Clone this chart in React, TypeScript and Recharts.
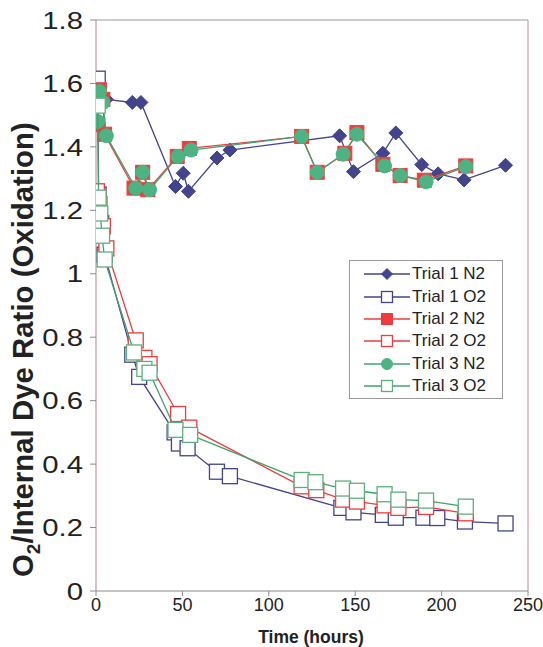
import React from 'react';
import { ScatterChart, Scatter, XAxis, YAxis, ReferenceLine, Label } from 'recharts';

// [time (hours), ratio]
const trial1N2: [number, number][] = [
  [2, 1.57], [6, 1.55], [21, 1.54], [26, 1.54], [46, 1.275], [50.5, 1.317], [53.5, 1.26],
  [70, 1.365], [77.5, 1.39], [141, 1.435], [149, 1.322], [166, 1.38], [173.5, 1.444],
  [188.5, 1.344], [198, 1.315], [213, 1.296], [237, 1.342],
];
const trial1O2: [number, number][] = [
  [1, 1.615], [1.5, 1.25], [3, 1.16], [5, 1.06], [21, 0.745], [25, 0.675], [45.5, 0.5],
  [48, 0.465], [53, 0.45], [70, 0.376], [77.5, 0.362], [142, 0.262], [149, 0.248],
  [166, 0.24], [173.5, 0.231], [189.5, 0.231], [197.5, 0.23], [213.5, 0.219], [237, 0.213],
];
const trial2N2: [number, number][] = [
  [1, 1.47], [2, 1.58], [4, 1.55], [5, 1.44], [22, 1.27], [27, 1.32], [30, 1.265],
  [47, 1.37], [54, 1.395], [119, 1.433], [128, 1.32], [144, 1.38], [151, 1.445],
  [166, 1.345], [176, 1.31], [190, 1.295], [214, 1.34],
];
const trial2O2: [number, number][] = [
  [0.5, 1.26], [2, 1.22], [4, 1.15], [6, 1.08], [23, 0.79], [28, 0.735], [31, 0.715],
  [47.5, 0.558], [54, 0.515], [119, 0.33], [127.5, 0.318], [143, 0.288], [151, 0.282],
  [167, 0.27], [175, 0.262], [191, 0.265], [214, 0.245],
];
const trial3N2: [number, number][] = [
  [1, 1.48], [2, 1.575], [4, 1.54], [6, 1.435], [23, 1.27], [27, 1.32], [31, 1.265],
  [47.5, 1.37], [55, 1.39], [119, 1.433], [128, 1.32], [143, 1.377], [151, 1.44],
  [167, 1.34], [176, 1.31], [191, 1.29], [214, 1.338],
];
const trial3O2: [number, number][] = [
  [1, 1.53], [1.5, 1.24], [2.5, 1.19], [3.5, 1.12], [5, 1.045], [22, 0.752], [28, 0.7],
  [31, 0.688], [46, 0.508], [54.5, 0.492], [119, 0.35], [127, 0.343], [143, 0.323],
  [151, 0.316], [167, 0.305], [175, 0.288], [191, 0.285], [214, 0.266],
];

const xTicks = [0, 50, 100, 150, 200, 250];
const yTicks = [0, 0.2, 0.4, 0.6, 0.8, 1, 1.2, 1.4, 1.6, 1.8];

const NAVY = '#44448c';
const RED = '#f03c3c';
const GREEN = '#4db383';
const GREEN_LINE = '#44a070';
const FONT = 'Arial, "Liberation Sans", sans-serif';

const toPoints = (d: [number, number][]) => d.map(([x, y]) => ({ x, y }));

type Kind = 'diamond' | 'square' | 'open' | 'circle';

const Marker = ({ kind, color, cx, cy, s = 14 }: { kind: Kind; color: string; cx: number; cy: number; s?: number }) => {
  const h = s / 2;
  if (kind === 'diamond') {
    return <polygon points={`${cx},${cy - h} ${cx + h},${cy} ${cx},${cy + h} ${cx - h},${cy}`} fill={color} stroke={color} strokeWidth={1} />;
  }
  if (kind === 'circle') {
    return <circle cx={cx} cy={cy} r={h} fill={color} stroke={color} strokeWidth={1} />;
  }
  if (kind === 'square') {
    return <rect x={cx - h} y={cy - h} width={s} height={s} fill={color} stroke={color} strokeWidth={1} />;
  }
  return <rect x={cx - h} y={cy - h} width={s} height={s} fill="#fff" stroke={color} strokeWidth={1.3} />;
};

const series = [
  { name: 'Trial 1 N2', data: trial1N2, kind: 'diamond' as Kind, color: NAVY, line: NAVY, size: 14 },
  { name: 'Trial 1 O2', data: trial1O2, kind: 'open' as Kind, color: NAVY, line: NAVY, size: 15 },
  { name: 'Trial 2 N2', data: trial2N2, kind: 'square' as Kind, color: RED, line: RED, size: 14 },
  { name: 'Trial 2 O2', data: trial2O2, kind: 'open' as Kind, color: RED, line: RED, size: 15 },
  { name: 'Trial 3 N2', data: trial3N2, kind: 'circle' as Kind, color: GREEN, line: GREEN_LINE, size: 14 },
  { name: 'Trial 3 O2', data: trial3O2, kind: 'open' as Kind, color: '#5fae80', line: GREEN_LINE, size: 15 },
];

const LegendBox = () => (
  <div
    style={{
      position: 'absolute',
      left: 349,
      top: 260,
      width: 154,
      height: 139,
      boxSizing: 'border-box',
      border: '1px solid #9a9a9a',
      background: '#fff',
      paddingTop: 2,
      fontFamily: FONT,
      fontSize: 17,
      color: '#222',
    }}
  >
    {series.map((s) => (
      <div key={s.name} style={{ display: 'flex', alignItems: 'center', height: 22.4 }}>
        <svg width={62} height={22} style={{ display: 'block' }}>
          <line x1={14} y1={11} x2={60} y2={11} stroke={s.line} strokeWidth={1.3} />
          <Marker kind={s.kind} color={s.color} cx={37} cy={11} s={11} />
        </svg>
        <span style={{ whiteSpace: 'nowrap' }}>{s.name}</span>
      </div>
    ))}
  </div>
);

// the source figure's y labels are drawn slightly wide
const YTick = ({ x, y, payload }: any) => (
  <text
    transform={`translate(${x},${y}) scale(1.22,1)`}
    textAnchor="end"
    dy="0.36em"
    fontFamily={FONT}
    fontSize={24}
    fill="#222"
  >
    {String(payload.value)}
  </text>
);

const YTitle = () => (
  <text
    transform="translate(33,577) rotate(-90)"
    textAnchor="start"
    fontFamily={FONT}
    fontWeight="bold"
    fontSize={29.4}
    fill="#222"
  >
    <tspan>O</tspan>
    <tspan fontSize={19} dy={7}>2</tspan>
    <tspan dy={-7}>/Internal Dye Ratio (Oxidation)</tspan>
  </text>
);

const XTitle = () => (
  <text x={311} y={643} textAnchor="middle" fontFamily={FONT} fontWeight="bold" fontSize={17.5} fill="#222">
    Time (hours)
  </text>
);

export default function App() {
  return (
    <div style={{ position: 'absolute', left: 0, top: 0, width: 543, height: 647, background: '#fff' }}>
      <ScatterChart width={543} height={647} margin={{ top: 20, right: 15, left: 0, bottom: 0 }}>
        <XAxis
          type="number"
          dataKey="x"
          domain={[0, 250]}
          ticks={xTicks}
          height={56}
          allowDataOverflow
          axisLine={{ stroke: '#8a8a8a' }}
          tickLine={{ stroke: '#8a8a8a' }}
          tickSize={5}
          tick={{ fontSize: 18, fill: '#222', fontFamily: FONT }}
        >
          <Label content={() => <XTitle />} />
        </XAxis>
        <YAxis
          type="number"
          dataKey="y"
          domain={[0, 1.8]}
          ticks={yTicks}
          width={96}
          allowDataOverflow
          axisLine={{ stroke: '#b98088' }}
          tickLine={{ stroke: '#8a8a8a' }}
          tickSize={6}
          tickMargin={7}
          tick={<YTick />}
        >
          <Label content={() => <YTitle />} />
        </YAxis>
        <ReferenceLine y={1.8} stroke="#9a9a9a" ifOverflow="visible" />
        <ReferenceLine x={250} stroke="#c08a92" ifOverflow="visible" />
        {series.map((s) => (
          <Scatter
            key={s.name}
            name={s.name}
            data={toPoints(s.data)}
            line={{ stroke: s.line, strokeWidth: 1.3 }}
            lineType="joint"
            isAnimationActive={false}
            shape={(p: any) => <Marker kind={s.kind} color={s.color} cx={p.cx} cy={p.cy} s={s.size} />}
          />
        ))}
      </ScatterChart>
      <LegendBox />
    </div>
  );
}
